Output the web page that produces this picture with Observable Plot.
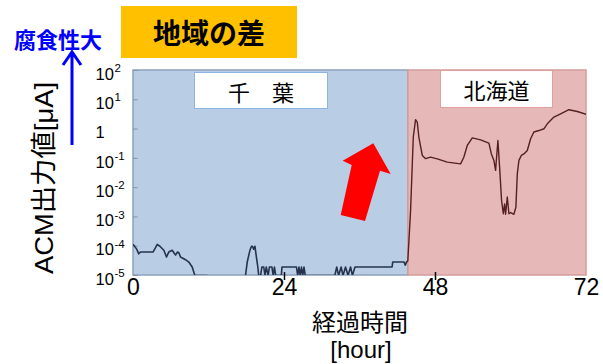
<!DOCTYPE html>
<html><head><meta charset="utf-8">
<script src="https://cdn.jsdelivr.net/npm/d3@7"></script>
<script src="https://cdn.jsdelivr.net/npm/@observablehq/plot@0.6"></script>
<style>
body{margin:0;background:#fff;}
#wrap{position:relative;width:603px;height:364px;overflow:hidden;font-family:"Liberation Sans",Arial,sans-serif;}
#wrap svg{position:absolute;left:0;top:0;}
.box{position:absolute;display:flex;align-items:center;justify-content:center;box-sizing:border-box;font-family:"Noto Sans CJK JP",sans-serif;}
</style></head>
<body><div id="wrap"></div>
<script>
// ---- data ----
const regionNames = ["千　葉", "北海道"];
const regionStart = [0, 43.7];
const regionEnd = [43.7, 72];
const xTicks = [0, 24, 48, 72];
const yTickExp = [2, 1, 0, -1, -2, -3, -4, -5];

// Chiba section (hours, log10 of ACM output in µA)
const chibaHours = [0,0.5,0.84,1.1,3.1,3.5,3.77,4.2,4.82,5.25,5.6,6.15,6.5,6.68,7.0,7.2,7.47,8.27,8.79,9.33,9.75,11.7,11.8,17.6,17.8,18.08,18.5,18.76,18.9,19.1,19.3,19.55,19.76,19.9,
  20.2,20.4,20.7,20.9,21.1,21.4,21.6,22.0,22.2,22.4,22.6,23.5,23.6,25.9,26.1,26.3,26.5,26.7,26.9,27.1,27.3,32.0,32.3,32.6,33.0,33.3,33.7,34.1,34.5,34.8,35.2,35.6,41.1,41.2,43.0,43.2,43.4];
const chibaLog = [-3.95,-4.1,-4.26,-4.2,-4.2,-4.05,-3.94,-4.0,-4.14,-4.37,-4.2,-4.14,-4.25,-4.3,-4.2,-4.22,-4.37,-4.46,-4.54,-4.71,-5,-5,-5.6,-5.6,-5,-4.54,-4.14,-4.0,-4.0,-4.1,-4.0,-4.4,-4.71,-5,
  -5,-4.71,-4.71,-5,-4.71,-5,-4.71,-4.71,-5,-4.71,-5,-5,-4.71,-4.71,-5,-4.71,-5,-4.71,-5,-4.71,-5,-5,-4.71,-5,-4.71,-5,-4.71,-5,-4.71,-5,-4.71,-4.71,-4.71,-4.54,-4.54,-4.65,-4.54];

// Hokkaido section
const hokkaidoHours = [43.4,43.6,44.04,44.47,44.83,45.1,45.36,45.9,46.42,47.2,48.28,49.87,51.99,52.5,53.05,53.85,55.17,56.49,56.87,57.28,57.55,57.71,57.92,58.19,58.5,58.78,58.98,59.14,59.41,59.67,59.94,60.46,60.78,61.0,61.26,61.64,62.05,62.59,63.12,63.64,64.44,65.23,65.77,66.82,67.89,69.2,70.54,71.97];
const hokkaidoLog = [-4.54,-4.5,-2.78,-0.27,0.32,0.24,-0.28,-0.9,-1.01,-0.96,-1.02,-1.13,-1.19,-0.96,-0.56,-0.30,-0.37,-0.48,-0.84,-1.07,-1.41,-0.96,-0.39,-1.30,-2.44,-2.89,-2.56,-2.91,-2.32,-2.89,-2.85,-2.91,-2.66,-1.53,-1.07,-0.9,-0.85,-0.73,-0.33,-0.10,-0.05,0.01,0.18,0.41,0.52,0.66,0.6,0.5];

const chiba = chibaHours.map((h, i) => ({h, v: 10 ** chibaLog[i]}));
const hokkaido = hokkaidoHours.map((h, i) => ({h, v: 10 ** hokkaidoLog[i]}));
const yTicks = yTickExp.map(e => ({e, v: 10 ** e}));

const chart = Plot.plot({
  width: 603, height: 364,
  marginLeft: 133, marginRight: 17, marginTop: 70, marginBottom: 89,
  x: {domain: [0, 72], axis: null},
  y: {type: "log", domain: [1e-5, 1e2], axis: null},
  style: {fontFamily: "Liberation Sans, Arial, sans-serif", background: "transparent", overflow: "visible"},
  marks: [
    Plot.rect([0], {x1: regionStart[0], x2: regionEnd[0], y1: 1e-5, y2: 1e2, fill: "#b9cde5", stroke: "#8ea1bd", strokeWidth: 1.5}),
    Plot.rect([1], {x1: regionStart[1], x2: regionEnd[1], y1: 1e-5, y2: 1e2, fill: "#e6b9b8", stroke: "#d59c9c", strokeWidth: 1.5}),
    Plot.ruleY(yTicks, {y: "v", x1: 0, x2: 0.75, stroke: "#8294b0", strokeWidth: 1}),
    Plot.ruleX([24, 48], {x: d => d, y1: 10 ** -5.17, y2: 10 ** -4.9, stroke: "#000", strokeWidth: 1.5}),
    Plot.line(chiba, {x: "h", y: "v", stroke: "#26334f", strokeWidth: 1.6, clip: true}),
    Plot.line(hokkaido, {x: "h", y: "v", stroke: "#55201f", strokeWidth: 1.4, clip: true}),
    Plot.text(yTicks, {y: "v", frameAnchor: "left", dx: -38, dy: 4, textAnchor: "start", text: d => d.e === 0 ? "1" : "10", fontSize: 16.5, fill: "#000"}),
    Plot.text(yTicks, {y: "v", frameAnchor: "left", dx: -19, dy: -2, textAnchor: "start", text: d => d.e === 0 ? "" : String(d.e), fontSize: 11.5, fill: "#000"}),
    Plot.text(xTicks, {x: d => d, frameAnchor: "bottom", dy: 19, text: d => String(d), fontSize: 23, fill: "#000"})
  ]
});

const wrap = document.getElementById("wrap");
wrap.appendChild(chart);

// overlay annotations
const ov = d3.select(wrap).append("svg").attr("width", 603).attr("height", 364);
ov.append("text").attr("transform", "translate(44,178) rotate(-90)")
  .attr("text-anchor", "middle").attr("dominant-baseline", "central")
  .attr("font-family", "Liberation Sans, Noto Sans CJK JP, sans-serif").attr("font-size", 26).attr("fill", "#000")
  .attr("textLength", 192).attr("lengthAdjust", "spacingAndGlyphs")
  .text("ACM出力値[μA]");
ov.append("text").attr("x", 360).attr("y", 320).attr("text-anchor", "middle").attr("dominant-baseline", "central")
  .attr("font-family", "Noto Sans CJK JP, sans-serif").attr("font-size", 24).attr("fill", "#000").text("経過時間");
ov.append("text").attr("x", 361).attr("y", 358).attr("text-anchor", "middle")
  .attr("font-family", "Liberation Sans, Arial, sans-serif").attr("font-size", 24).attr("fill", "#000").text("[hour]");
ov.append("text").attr("x", 58).attr("y", 38).attr("text-anchor", "middle").attr("dominant-baseline", "central")
  .attr("font-family", "Noto Sans CJK JP, sans-serif").attr("font-weight", "bold").attr("font-size", 22).attr("fill", "#0000ff").text("腐食性大");
// blue arrow
ov.append("path").attr("d", "M72,145 L72,52 M63,65 L72,52 L81,65").attr("fill", "none").attr("stroke", "#0000ff").attr("stroke-width", 3);
// red arrow
ov.append("polygon").attr("points", "373.3,143.3 390.7,174 380,170.7 365,221 340.7,215 351.7,165 342.7,160.7").attr("fill", "#ff0000");

// boxes
function box(txt, l, t, w, h, style) {
  const d = document.createElement("div");
  d.className = "box";
  d.textContent = txt;
  Object.assign(d.style, {left: l + "px", top: t + "px", width: w + "px", height: h + "px"}, style);
  wrap.appendChild(d);
}
box("地域の差", 121, 6, 176, 52, {background: "#ffc000", fontWeight: "bold", fontSize: "28px", color: "#000"});
box(regionNames[0], 194, 72, 134, 37, {background: "#fff", border: "1.5px solid #8eb4e3", fontSize: "22px", color: "#000"});
box(regionNames[1], 440, 70, 113, 38, {background: "#fff", border: "1.5px solid #e0a0a0", fontSize: "22px", color: "#000"});
</script>
</body></html>
